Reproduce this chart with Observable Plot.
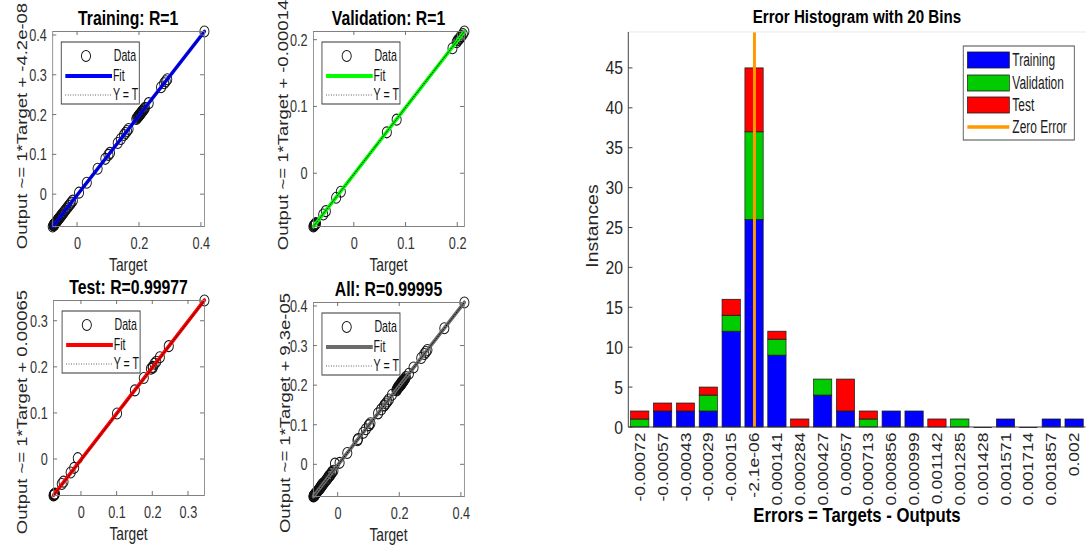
<!DOCTYPE html>
<html><head><meta charset="utf-8">
<script src="https://cdn.jsdelivr.net/npm/d3@7"></script>
<script src="https://cdn.jsdelivr.net/npm/@observablehq/plot@0.6"></script>
<style>
html,body{margin:0;padding:0;background:#fff;overflow:hidden;width:1088px;height:545px}
#fig{position:absolute;left:0;top:0;width:1311px;height:545px;transform:scaleX(0.83);transform-origin:0 0}
#fig svg{position:absolute;overflow:visible}
</style></head><body><div id="fig"></div>
<script>
// ---------------- DATA ----------------
const trainTarget = [-0.08,-0.077,-0.077,-0.076,-0.076,-0.075,-0.075,-0.074,-0.073,-0.072,-0.071,-0.07,-0.068,-0.066,-0.064,-0.062,-0.06,-0.058,-0.056,-0.054,-0.052,-0.05,-0.047,-0.044,-0.04,-0.036,-0.032,-0.028,-0.024,-0.02,-0.015,0.005,0.03,0.065,0.09,0.1,0.105,0.13,0.14,0.15,0.155,0.16,0.165,0.19,0.193,0.195,0.197,0.198,0.2,0.2,0.201,0.202,0.204,0.205,0.207,0.208,0.21,0.212,0.215,0.218,0.23,0.27,0.28,0.285,0.29,0.41];
const trainOutput = [-0.08,-0.077,-0.077,-0.076,-0.076,-0.075,-0.075,-0.074,-0.073,-0.072,-0.071,-0.07,-0.068,-0.066,-0.064,-0.062,-0.06,-0.058,-0.056,-0.054,-0.052,-0.05,-0.047,-0.044,-0.04,-0.036,-0.032,-0.028,-0.024,-0.02,-0.015,0.005,0.03,0.065,0.09,0.1,0.105,0.13,0.14,0.15,0.155,0.16,0.165,0.19,0.193,0.195,0.197,0.198,0.2,0.2,0.201,0.202,0.204,0.205,0.207,0.208,0.21,0.212,0.215,0.218,0.23,0.27,0.28,0.285,0.29,0.41];
const valTarget = [-0.079,-0.078,-0.077,-0.076,-0.076,-0.075,-0.074,-0.06,-0.055,-0.035,-0.026,0.063,0.082,0.19,0.198,0.2,0.202,0.204,0.205,0.207,0.21,0.213];
const valOutput = [-0.079,-0.078,-0.077,-0.076,-0.076,-0.075,-0.074,-0.061,-0.056,-0.036,-0.027,0.062,0.081,0.188,0.197,0.2,0.201,0.203,0.204,0.206,0.209,0.213];
const testTarget = [-0.078,-0.077,-0.076,-0.076,-0.075,-0.074,-0.055,-0.05,-0.03,-0.02,-0.01,0.1,0.15,0.175,0.195,0.2,0.2,0.205,0.21,0.22,0.245,0.345];
const testOutput = [-0.078,-0.077,-0.076,-0.076,-0.075,-0.074,-0.053,-0.048,-0.028,-0.018,0.003,0.1,0.15,0.177,0.197,0.199,0.201,0.208,0.212,0.222,0.246,0.345];

const fitSlope = {Training: 1, Validation: 1, Test: 1, All: 1};
const fitIntercept = {Training: -4.2e-08, Validation: -0.00014, Test: 0.00065, All: 9.3e-05};
const rValues = {Training: "1", Validation: "1", Test: "0.99977", All: "0.99995"};
const yLabels = {Training: "Output ~= 1*Target + -4.2e-08", Validation: "Output ~= 1*Target + -0.00014", Test: "Output ~= 1*Target + 0.00065", All: "Output ~= 1*Target + 9.3e-05"};
const xTicksTrain = [0, 0.2, 0.4], yTicksTrain = [0, 0.1, 0.2, 0.3, 0.4];
const xTicksVal = [0, 0.1, 0.2], yTicksVal = [0, 0.1, 0.2];
const xTicksTest = [0, 0.1, 0.2, 0.3], yTicksTest = [0, 0.1, 0.2, 0.3];
const xTicksAll = [0, 0.2, 0.4], yTicksAll = [0, 0.1, 0.2, 0.3, 0.4];

const binLabels = ["-0.00072","-0.00057","-0.00043","-0.00029","-0.00015","-2.1e-06","0.000141","0.000284","0.000427","0.00057","0.000713","0.000856","0.000999","0.001142","0.001285","0.001428","0.001571","0.001714","0.001857","0.002"];
const trainCounts = [0,2,2,2,12,26,9,0,4,2,0,2,2,0,0,0,1,0,1,1];
const valCounts   = [1,0,0,2,2,11,2,0,2,0,1,0,0,0,1,0,0,0,0,0];
const testCounts  = [1,1,1,1,2,8,1,1,0,4,1,0,0,1,0,0,0,0,0,0];
const zeroErrorBin = "-2.1e-06";
const histYTicks = [0,5,10,15,20,25,30,35,40,45];
const histYMax = 49.5;
const seriesNames = ["Training","Validation","Test"];
const seriesColors = ["#0000ff","#00cc00","#ff0000"];

// ---------------- HELPERS ----------------
const FONT = '"Liberation Sans", Arial, Helvetica, sans-serif';
const fig = document.getElementById("fig");

function place(svg, left, top) {
  svg.style.left = left + "px"; svg.style.top = top + "px";
  fig.appendChild(svg);
}
function addText(svg, o) {
  const sc = o.k ? (o.rotate ? ` scale(1,${o.k})` : ` scale(${o.k},1)`) : "";
  const t = d3.select(svg).append("text")
    .attr("transform", `translate(${o.x},${o.y}) rotate(${o.rotate || 0})${sc}`)
    .attr("text-anchor", o.anchor || "middle")
    .attr("font-family", FONT).attr("font-size", o.size)
    .attr("font-weight", o.weight || "normal")
    .attr("fill", o.fill || "#262626").text(o.text);
  if (o.baseline) t.attr("dominant-baseline", o.baseline);
  return t;
}
function condenseAxisText(svg, k) {
  d3.select(svg).selectAll('g[aria-label$="tick label"] text').each(function () {
    const tr = this.getAttribute("transform");
    if (tr) this.setAttribute("transform", tr + ` scale(${k},1)`);
    else {
      const x = +this.getAttribute("x") || 0, y = +this.getAttribute("y") || 0;
      this.setAttribute("transform", `translate(${x},${y}) scale(${k},1) translate(${-x},${-y})`);
    }
  });
}

function regression(cfg) {
  const {name, left, top, width, height, mL, mT, mR, mB, target, output, color, xTicks, yTicks, ylabelY, ylabelX} = cfg;
  const pts = target.map((t, i) => ({t, o: output[i]}));
  const ext = d3.extent([...target, ...output]);
  const fit = ext.map(x => ({x, y: fitSlope[name] * x + fitIntercept[name]}));
  const diag = ext.map(v => ({x: v, y: v}));
  const chart = Plot.plot({
    width, height, marginLeft: mL, marginTop: mT, marginRight: mR, marginBottom: mB,
    style: {background: "transparent", fontFamily: FONT, color: "#333"},
    x: {domain: ext}, y: {domain: ext},
    marks: [
      Plot.dot(pts, {x: "t", y: "o", r: 5.5, stroke: "#111", strokeWidth: 1.1, fill: "none"}),
      Plot.line(fit, {x: "x", y: "y", stroke: color, strokeWidth: 4}),
      Plot.line(diag, {x: "x", y: "y", stroke: "#000", strokeWidth: 1, strokeDasharray: "1,2"}),
      Plot.frame({stroke: "#808080", strokeWidth: 1}),
      Plot.axisX({ticks: xTicks, tickSize: 0, tickPadding: 10, tickFormat: d => String(d), label: null, fontSize: 17}),
      Plot.axisY({ticks: yTicks, tickSize: 0, tickPadding: 7, tickFormat: d => String(d), label: null, fontSize: 17})
    ]
  });
  condenseAxisText(chart, 0.9);
  const sx = chart.scale("x"), sy = chart.scale("y");
  const [xa, xb] = sx.range, [ya, yb] = sy.range;
  const g = d3.select(chart).append("g").attr("stroke", "#666").attr("stroke-width", 1);
  for (const v of xTicks) {
    const px = sx.apply(v);
    g.append("line").attr("x1", px).attr("x2", px).attr("y1", ya).attr("y2", ya - 4);
    g.append("line").attr("x1", px).attr("x2", px).attr("y1", yb).attr("y2", yb + 4);
  }
  for (const v of yTicks) {
    const py = sy.apply(v);
    g.append("line").attr("x1", xa).attr("x2", xa + 4.8).attr("y1", py).attr("y2", py);
    g.append("line").attr("x1", xb).attr("x2", xb - 4.8).attr("y1", py).attr("y2", py);
  }
  const cx = (xa + xb) / 2;
  addText(chart, {x: cx, y: yb - 6, text: `${name}: R=${rValues[name]}`, size: 20, weight: "bold", fill: "#000", k: 0.95});
  addText(chart, {x: cx, y: ya + 45, text: "Target", size: 18, k: 0.92});
  addText(chart, {x: ylabelX, y: ylabelY, text: yLabels[name], size: 18.5, rotate: -90, baseline: "central"});
  // legend
  const L = d3.select(chart).append("g");
  const lx = xa + 10.8, ly = yb + 11;
  L.append("rect").attr("x", lx).attr("y", ly).attr("width", 94).attr("height", 62)
    .attr("fill", "#fff").attr("stroke", "#333").attr("stroke-width", 1);
  const rows = [ly + 14, ly + 34, ly + 53];
  L.append("circle").attr("cx", xa + 40.6).attr("cy", rows[0]).attr("r", 5.5).attr("fill", "none").attr("stroke", "#111").attr("stroke-width", 1.1);
  L.append("line").attr("x1", xa + 15.7).attr("x2", xa + 72).attr("y1", rows[1]).attr("y2", rows[1]).attr("stroke", color).attr("stroke-width", 4);
  L.append("line").attr("x1", xa + 15.7).attr("x2", xa + 72).attr("y1", rows[2]).attr("y2", rows[2]).attr("stroke", "#333").attr("stroke-width", 1).attr("stroke-dasharray", "1,2");
  ["Data", "Fit", "Y = T"].forEach((t, i) => addText(L.node(), {x: i === 0 ? xa + 74 : xa + 73, y: rows[i], text: t, size: 16, anchor: "start", baseline: "central", fill: "#111", k: 0.8}));
  place(chart, left, top);
}

// ---------------- REGRESSION PLOTS ----------------
regression({name: "Training", left: 0, top: 0, width: 270, height: 285, mL: 63, mT: 31, mR: 24.2, mB: 59,
  target: trainTarget, output: trainOutput, color: "#0000ff", xTicks: xTicksTrain, yTicks: yTicksTrain, ylabelX: 27, ylabelY: 126});
regression({name: "Validation", left: 300, top: 0, width: 280, height: 285, mL: 77.1, mT: 31, mR: 21, mB: 59,
  target: valTarget, output: valOutput, color: "#00ff00", xTicks: xTicksVal, yTicks: yTicksVal, ylabelX: 41, ylabelY: 125});
regression({name: "Test", left: 0, top: 280, width: 270, height: 265, mL: 64, mT: 20, mR: 24.2, mB: 50,
  target: testTarget, output: testOutput, color: "#ff0000", xTicks: xTicksTest, yTicks: yTicksTest, ylabelX: 27, ylabelY: 132});
regression({name: "All", left: 300, top: 280, width: 280, height: 265, mL: 77.1, mT: 22, mR: 21, mB: 49,
  target: [...trainTarget, ...valTarget, ...testTarget], output: [...trainOutput, ...valOutput, ...testOutput],
  color: "#6b6b6b", xTicks: xTicksAll, yTicks: yTicksAll, ylabelX: 43, ylabelY: 133});

// ---------------- ERROR HISTOGRAM ----------------
(function () {
  const countsBySeries = [trainCounts, valCounts, testCounts];
  const table = [];
  binLabels.forEach((b, i) => seriesNames.forEach((s, k) => table.push({bin: b, series: s, count: countsBySeries[k][i]})));
  const totals = binLabels.map((b, i) => ({bin: b, total: trainCounts[i] + valCounts[i] + testCounts[i]}));
  const empty = totals.filter(d => d.total === 0);
  const W = 654.2, H = 545, mL = 100, mR = 3.3, mT = 32, mB = 118;
  const chart = Plot.plot({
    width: W, height: H, marginLeft: mL, marginRight: mR, marginTop: mT, marginBottom: mB,
    style: {background: "transparent", fontFamily: FONT, color: "#262626"},
    x: {domain: binLabels, paddingInner: 0.2, paddingOuter: 0.1, round: false},
    y: {domain: [0, histYMax]},
    color: {domain: seriesNames, range: seriesColors},
    marks: [
      Plot.barY(table, {x: "bin", y: "count", fill: "series", stroke: "#1a1a1a", strokeWidth: 0.8}),
      Plot.tickY(empty, {x: "bin", y: "total", stroke: "#1a1a1a", strokeWidth: 1}),
      Plot.ruleX([zeroErrorBin], {x: d => d, stroke: "#ff9900", strokeWidth: 3.6}),
      Plot.axisX({tickRotate: -90, tickSize: 0, tickPadding: 5, label: null, fontSize: 17.5}),
      Plot.axisY({ticks: histYTicks, tickSize: 0, tickPadding: 7, label: null, fontSize: 19})
    ]
  });
  const sy = chart.scale("y");
  const x0 = mL, x1 = W - mR, y0 = mT, y1 = H - mB;
  const g = d3.select(chart).append("g");
  g.append("line").attr("x1", x0).attr("x2", x1).attr("y1", y0).attr("y2", y0).attr("stroke", "#e6e6e6");
  g.append("line").attr("x1", x0).attr("x2", x0).attr("y1", y0).attr("y2", y1).attr("stroke", "#333");
  g.append("line").attr("x1", x0).attr("x2", x1).attr("y1", y1).attr("y2", y1).attr("stroke", "#333");
  for (const v of histYTicks) {
    const py = sy.apply(v);
    g.append("line").attr("x1", x0).attr("x2", x0 + 5).attr("y1", py).attr("y2", py).attr("stroke", "#333");
  }
  const cx = (x0 + x1) / 2;
  addText(chart, {x: cx, y: 23, text: "Error Histogram with 20 Bins", size: 19, weight: "bold", fill: "#000", k: 0.96});
  addText(chart, {x: cx, y: 522, text: "Errors = Targets - Outputs", size: 21, weight: "bold", fill: "#000", k: 0.96});
  addText(chart, {x: 56.7, y: 226, text: "Instances", size: 19.5, rotate: -90, baseline: "central"});
  // legend
  const L = d3.select(chart).append("g");
  L.append("rect").attr("x", x0 + 403.6).attr("y", 46).attr("width", 133.8).attr("height", 94)
    .attr("fill", "#fff").attr("stroke", "#666").attr("stroke-width", 1.2);
  const rows = [60, 83, 105, 127];
  seriesNames.forEach((s, k) => {
    L.append("rect").attr("x", x0 + 408.5).attr("y", rows[k] - 8).attr("width", 50.6).attr("height", 16)
      .attr("fill", seriesColors[k]).attr("stroke", "#1a1a1a").attr("stroke-width", 0.8);
  });
  L.append("line").attr("x1", x0 + 408.5).attr("x2", x0 + 459.1).attr("y1", rows[3]).attr("y2", rows[3])
    .attr("stroke", "#ff9900").attr("stroke-width", 3.6);
  [...seriesNames, "Zero Error"].forEach((t, k) => addText(L.node(), {x: x0 + 462.7, y: rows[k], text: t, size: 18, anchor: "start", baseline: "central", fill: "#1a1a1a", k: 0.8}));
  place(chart, 1310.8 - W, 0);
})();
</script></body></html>
